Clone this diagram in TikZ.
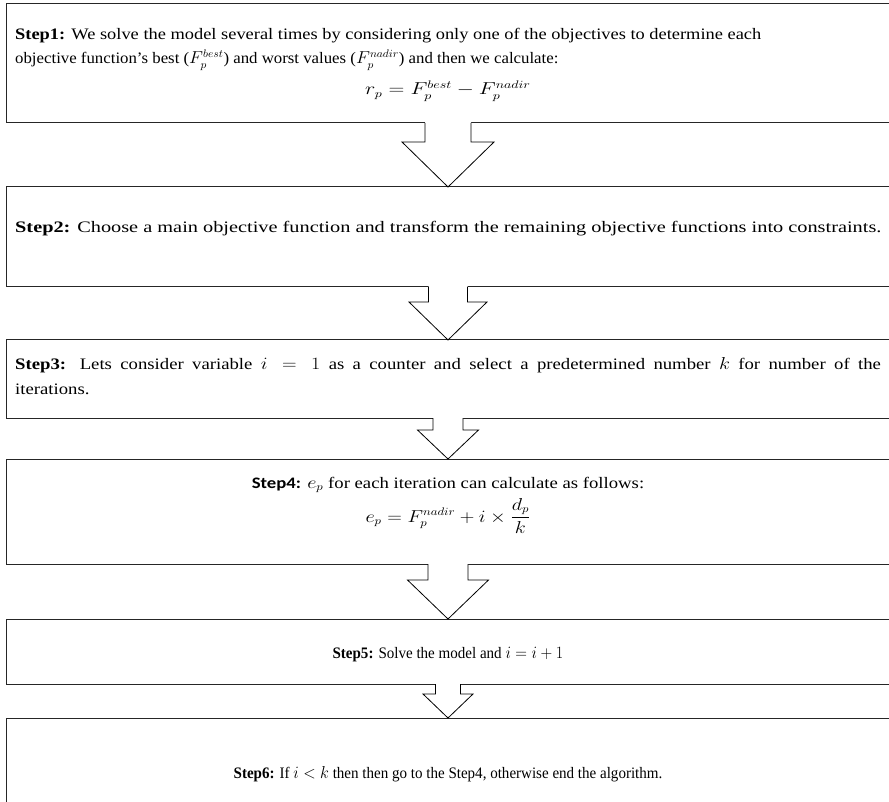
\documentclass[tikz,border=0pt]{standalone}
\usepackage{amsmath}
\usepackage{graphicx}
\usepackage{fontspec}
\setmainfont{Liberation Serif}
\newfontfamily\stepsans{Carlito}
\usetikzlibrary{calc}

\tikzset{
  stepbox/.style={draw=black!85, line width=1pt, minimum width=884pt, outer sep=0pt, inner sep=0pt},
  steptext/.style={inner sep=0pt, font=\fontsize{16}{18}\selectfont}
}
% block arrow: from box, to box, half shaft, half head, shaft length
\newcommand{\blockdown}[5]{%
  \fill[white] ($(#1.south)+(-#3,-1)$) -- ($(#1.south)+(-#3,#5)$) -- ($(#1.south)+(-#4,#5)$)
    -- (#2.north) -- ($(#1.south)+(#4,#5)$) -- ($(#1.south)+(#3,#5)$) -- ($(#1.south)+(#3,-1)$) -- cycle;
  \draw[line width=0.8pt] ($(#1.south)+(-#3,0)$) -- ($(#1.south)+(-#3,#5)$) -- ($(#1.south)+(-#4,#5)$)
    -- (#2.north) -- ($(#1.south)+(#4,#5)$) -- ($(#1.south)+(#3,#5)$) -- ($(#1.south)+(#3,0)$);}
\newcommand{\wide}[2]{\scalebox{#1}[1]{#2}}

\begin{document}
\begin{tikzpicture}[x=1pt, y=-1pt]
\useasboundingbox (0,0) rectangle (889,802);

\node[stepbox, minimum height=119pt, anchor=north] (s1) at (448,4) {};
\node[stepbox, minimum height=100pt, anchor=north] (s2) at (448,187) {};
\node[stepbox, minimum height=78pt, anchor=north] (s3) at (448,340) {};
\node[stepbox, minimum height=105pt, anchor=north] (s4) at (448,459) {};
\node[stepbox, minimum height=65pt, anchor=north] (s5) at (448,619) {};
\node[stepbox, minimum height=110pt, anchor=north] (s6) at (448,718) {};

\blockdown{s1}{s2}{23}{46}{19}
\blockdown{s2}{s3}{19.5}{39}{15}
\blockdown{s3}{s4}{15}{30.5}{12}
\blockdown{s4}{s5}{20}{40.5}{16}
\blockdown{s5}{s6}{12.5}{25}{10}

\node[steptext, anchor=base west] (t1) at (15,40)
  {\wide{1.15}{\textbf{Step1:} We solve the model several times by considering only one of the objectives to determine each}};
\node[steptext, anchor=base west] (t1b) at (15,64)
  {\wide{1.05}{objective function's best ($F_p^{best}$) and worst values ($F_p^{nadir}$) and then we calculate:}};
\node[steptext, anchor=base] (f1) at (448,95) {\wide{1.27}{$r_p = F_p^{best} - F_p^{nadir}$}};

\node[steptext, anchor=base west] (t2) at (15,233)
  {\wide{1.27}{\textbf{Step2:} Choose a main objective function and transform the remaining objective functions into constraints.}};

\node[steptext, anchor=base west] (t3) at (15,369)
  {\wide{1.17}{\parbox[t]{740pt}{\fontsize{16}{25}\selectfont\textbf{Step3:} Lets consider variable $i=1$ as a counter and select a predetermined number $k$ for number of the\linebreak
   iterations.}}};

\node[steptext, anchor=base] (t4) at (448,488)
  {\wide{1.17}{{\stepsans\bfseries Step4:} $e_p$ for each iteration can calculate as follows:}};
\node[steptext, anchor=base] (f4) at (448,522) {\wide{1.17}{$e_p = F_p^{nadir} + i \times \dfrac{d_p}{k}$}};

\node[steptext, anchor=base] (t5) at (448,658)
  {\wide{0.94}{\textbf{Step5:} Solve the model and $i = i + 1$}};

\node[steptext, anchor=base] (t6) at (448,778)
  {\wide{0.94}{\textbf{Step6:} If $i < k$ then then go to the Step4, otherwise end the algorithm.}};
\end{tikzpicture}
\end{document}
